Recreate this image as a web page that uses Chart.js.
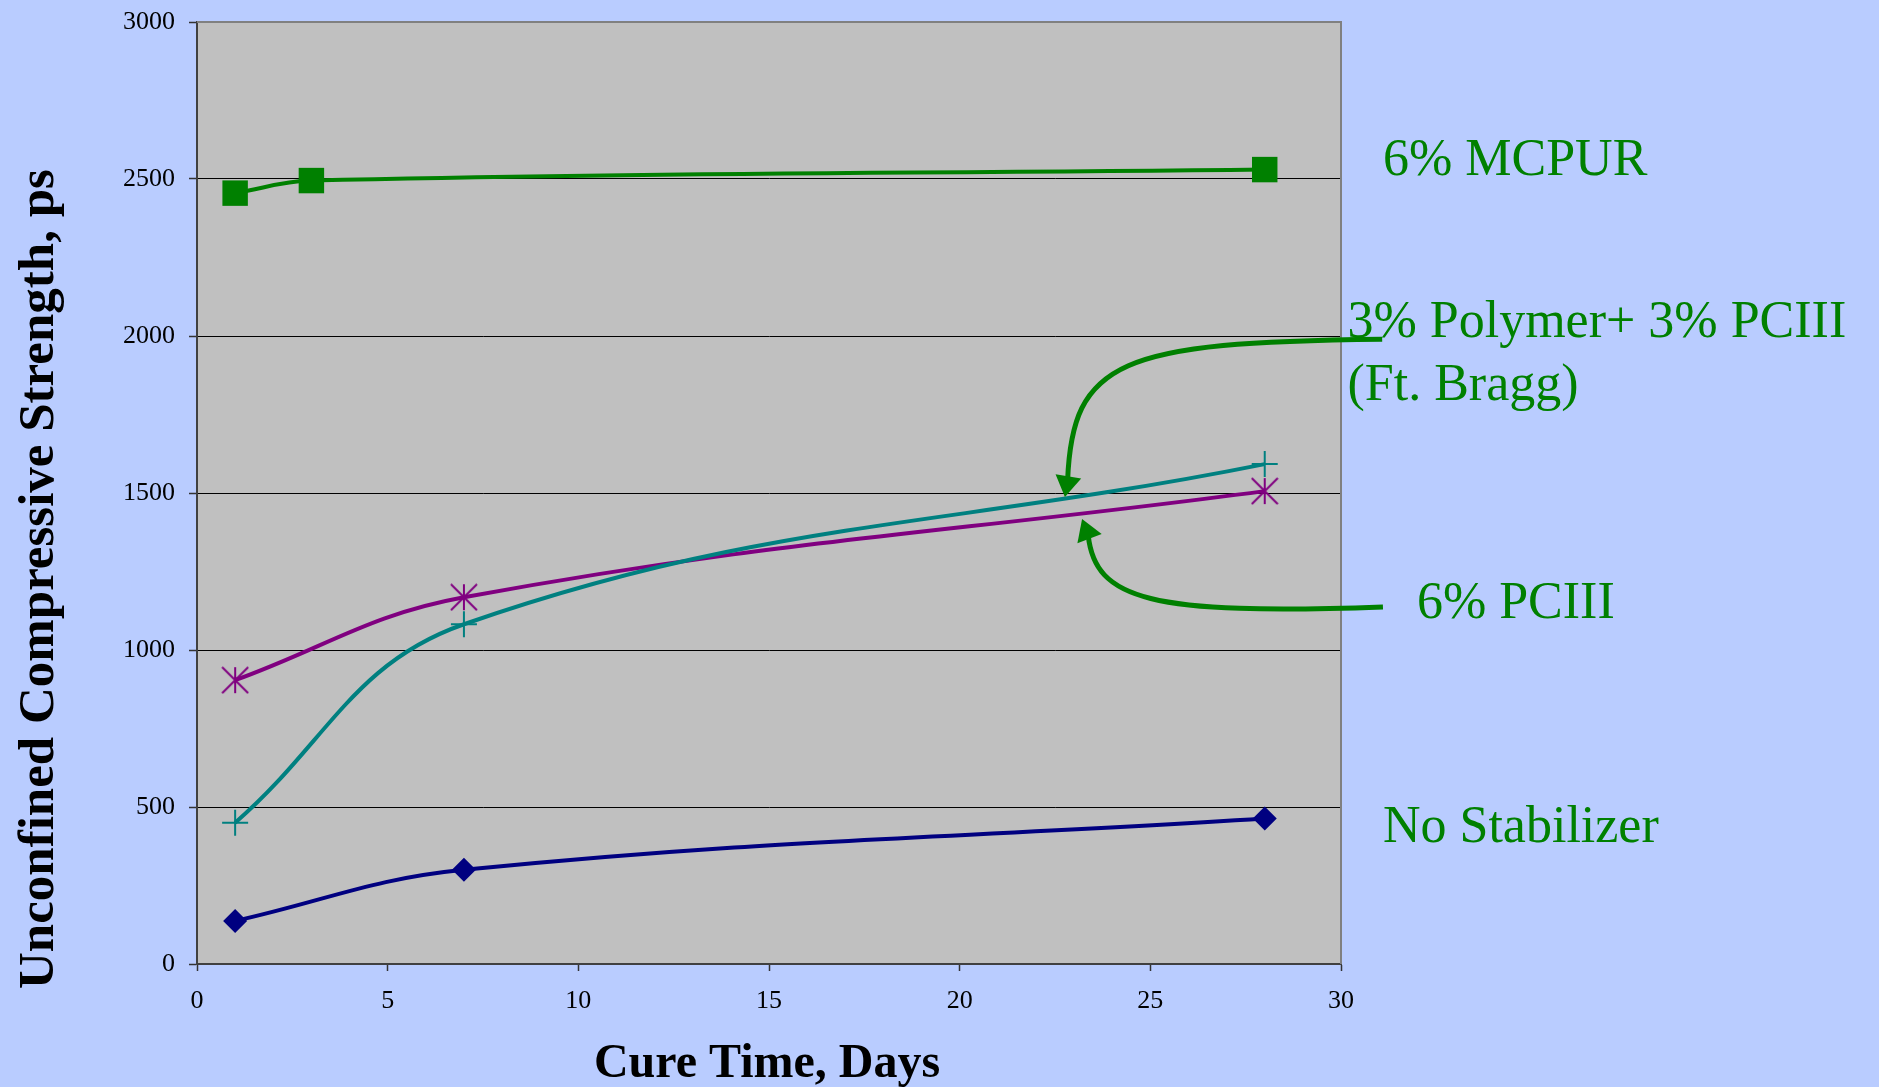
<!DOCTYPE html>
<html>
<head>
<meta charset="utf-8">
<script src="https://cdn.jsdelivr.net/npm/chart.js@4.4.1/dist/chart.umd.min.js"></script>
<style>
  html, body { margin: 0; padding: 0; background: #B9CCFF; }
  #wrap { width: 1879px; height: 1087px; position: relative; }
</style>
</head>
<body>
<div id="wrap"><canvas id="c"></canvas></div>
<script>
// ---------- data ----------
const xTicks = [0, 5, 10, 15, 20, 25, 30];
const yTicks = [0, 500, 1000, 1500, 2000, 2500, 3000];
const xTitle = 'Cure Time, Days';
const yTitle = 'Unconfined Compressive Strength, ps';
const seriesNames = ['6% MCPUR', '3% Polymer+ 3% PCIII', '6% PCIII', 'No Stabilizer'];
const mcpurDays = [1, 3, 28];
const mcpurValues = [2455, 2495, 2530];
const cureDays = [1, 7, 28];
const polymerPc3Values = [450, 1082, 1592];
const pc3Values = [904, 1168, 1506];
const noStabValues = [137, 300, 463];

// ---------- styles ----------
const SERIF = '"Liberation Serif", "Times New Roman", serif';
const GREEN = '#008000';

function asteriskMarker(color) {
  const c = document.createElement('canvas');
  c.width = 28; c.height = 28;
  const g = c.getContext('2d');
  g.strokeStyle = color; g.lineWidth = 2;
  g.beginPath();
  g.moveTo(1, 1); g.lineTo(27, 27);
  g.moveTo(27, 1); g.lineTo(1, 27);
  g.moveTo(14, 1); g.lineTo(14, 27);
  g.stroke();
  return c;
}

function pts(xs, ys) { return xs.map((x, i) => ({ x: x, y: ys[i] })); }

// annotation layout (in data units of the chart's own scales)
const labelSpots = [
  { text: seriesNames[0], x: 31.10, y: 2513 },
  { text: '3% Polymer+ 3% PCIII', x: 30.17, y: 1997 },
  { text: '(Ft. Bragg)', x: 30.17, y: 1796 },
  { text: seriesNames[2], x: 31.99, y: 1102 },
  { text: seriesNames[3], x: 31.10, y: 388 }
];
const arrows = [
  { p: [[31.08, 1990], [24.21, 1981], [22.95, 1924], [22.83, 1538]], tip: [22.76, 1487] },
  { p: [[31.10, 1137], [24.99, 1111], [23.55, 1159], [23.37, 1366]], tip: [23.21, 1417] }
];

const decor = {
  id: 'decor',
  beforeDraw(chart) {
    const { ctx, chartArea: a } = chart;
    ctx.save();
    ctx.fillStyle = '#C0C0C0';
    ctx.fillRect(a.left, a.top, a.right - a.left, a.bottom - a.top);
    ctx.restore();
  },
  beforeDatasetsDraw(chart) {
    const { ctx, chartArea: a } = chart;
    ctx.save();
    ctx.strokeStyle = '#808080';
    ctx.lineWidth = 2;
    ctx.beginPath();
    ctx.moveTo(a.left, a.top); ctx.lineTo(a.right, a.top); ctx.lineTo(a.right, a.bottom);
    ctx.stroke();
    ctx.restore();
  },
  afterDraw(chart) {
    const { ctx } = chart;
    const xs = chart.scales.x, ys = chart.scales.y;
    const P = (q) => [xs.getPixelForValue(q[0]), ys.getPixelForValue(q[1])];
    ctx.save();
    // arrows
    ctx.strokeStyle = GREEN; ctx.fillStyle = GREEN;
    ctx.lineWidth = 5; ctx.lineCap = 'butt'; ctx.lineJoin = 'round';
    arrows.forEach(ar => {
      const p = ar.p.map(P);
      ctx.beginPath();
      ctx.moveTo(p[0][0], p[0][1]);
      ctx.bezierCurveTo(p[1][0], p[1][1], p[2][0], p[2][1], p[3][0], p[3][1]);
      ctx.stroke();
      const t = P(ar.tip);
      const dx = t[0] - p[3][0], dy = t[1] - p[3][1];
      const len = Math.hypot(dx, dy);
      const ux = dx / len, uy = dy / len;
      const bx = t[0] - ux * 21, by = t[1] - uy * 21;
      ctx.beginPath();
      ctx.moveTo(t[0], t[1]);
      ctx.lineTo(bx - uy * 13, by + ux * 13);
      ctx.lineTo(bx + uy * 13, by - ux * 13);
      ctx.closePath();
      ctx.fill();
    });
    // series labels
    ctx.font = '52px ' + SERIF;
    ctx.textAlign = 'left'; ctx.textBaseline = 'alphabetic';
    labelSpots.forEach(l => {
      const q = P([l.x, l.y]);
      ctx.fillText(l.text, q[0], q[1]);
    });
    // axis titles
    ctx.fillStyle = '#000';
    ctx.font = 'bold 48px ' + SERIF;
    ctx.textAlign = 'center';
    ctx.fillText(xTitle, 767, 1077);
    ctx.translate(53, 989);
    ctx.rotate(-Math.PI / 2);
    ctx.font = 'bold 51px ' + SERIF;
    ctx.textAlign = 'left';
    ctx.fillText(yTitle, 0, 0);
    ctx.restore();
  }
};

const tickFont = { family: SERIF, size: 26 };

new Chart(document.getElementById('c'), {
  type: 'line',
  data: {
    datasets: [
      {
        label: seriesNames[0], data: pts(mcpurDays, mcpurValues),
        borderColor: GREEN, backgroundColor: GREEN, borderWidth: 4,
        pointStyle: 'rect', pointRadius: 18, pointBorderWidth: 0,
        pointBackgroundColor: GREEN, tension: 0.4, fill: false
      },
      {
        label: seriesNames[1], data: pts(cureDays, polymerPc3Values),
        borderColor: '#008080', backgroundColor: '#008080', borderWidth: 4,
        pointStyle: 'cross', pointRadius: 13, pointBorderWidth: 2,
        pointBorderColor: '#008080', tension: 0.4, fill: false
      },
      {
        label: seriesNames[2], data: pts(cureDays, pc3Values),
        borderColor: '#800080', backgroundColor: '#800080', borderWidth: 4,
        pointStyle: asteriskMarker('#800080'), pointRadius: 13,
        tension: 0.4, fill: false
      },
      {
        label: seriesNames[3], data: pts(cureDays, noStabValues),
        borderColor: '#000080', backgroundColor: '#000080', borderWidth: 4,
        pointStyle: 'rectRot', pointRadius: 12, pointBorderWidth: 0,
        pointBackgroundColor: '#000080', tension: 0.4, fill: false
      }
    ]
  },
  options: {
    animation: false,
    responsive: true,
    maintainAspectRatio: false,
    devicePixelRatio: 1,
    layout: { padding: { top: 22, right: 538, bottom: 0, left: 0 } },
    plugins: { legend: { display: false }, tooltip: { enabled: false } },
    scales: {
      x: {
        type: 'linear', position: 'bottom', min: 0, max: 30,
        afterBuildTicks: s => { s.ticks = xTicks.map(v => ({ value: v })); },
        afterFit: s => { s.height = 123; s.paddingLeft = 0; s.paddingRight = 0; },
        ticks: { font: tickFont, color: '#000', padding: 15, maxRotation: 0, callback: v => String(v) },
        grid: { drawOnChartArea: false, drawTicks: true, tickLength: 7, tickColor: '#333', tickWidth: 1.5 },
        border: { color: '#404040', width: 2 }
      },
      y: {
        type: 'linear', position: 'left', min: 0, max: 3000,
        afterBuildTicks: s => { s.ticks = yTicks.map(v => ({ value: v })); },
        afterFit: s => { s.width = 197; s.paddingTop = 0; s.paddingBottom = 0; },
        ticks: { font: tickFont, color: '#000', padding: 14, callback: v => String(v) },
        grid: { color: '#000', lineWidth: 1, drawTicks: true, tickLength: 8, tickColor: '#333', tickWidth: 1.5 },
        border: { color: '#404040', width: 2 }
      }
    }
  },
  plugins: [decor]
});
</script>
</body>
</html>
